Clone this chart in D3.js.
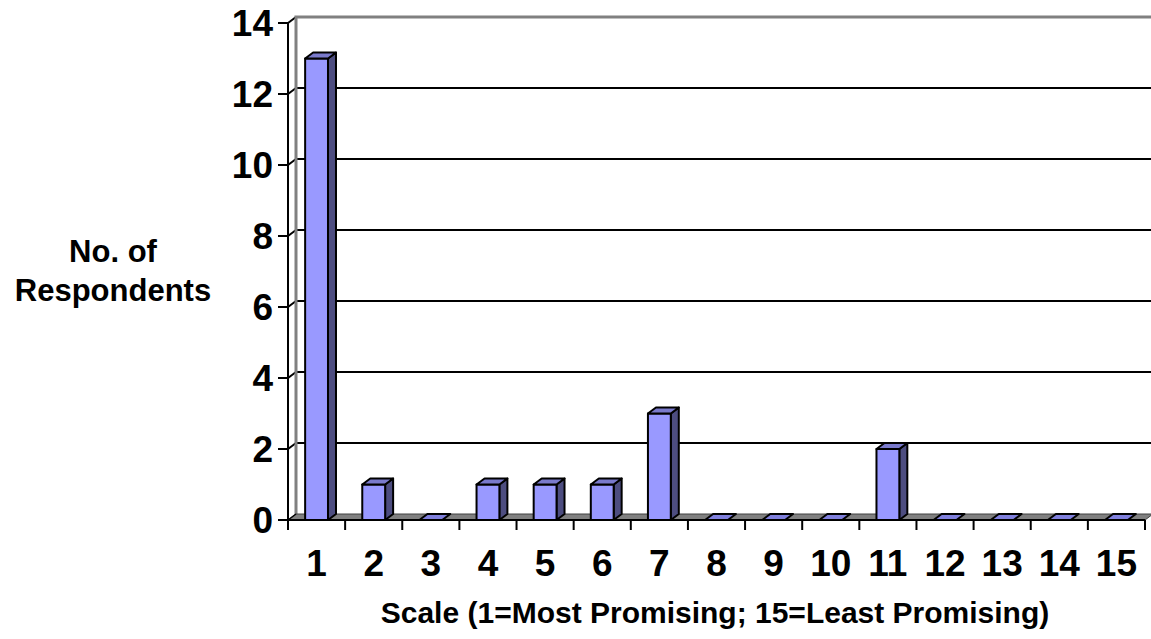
<!DOCTYPE html>
<html>
<head>
<meta charset="utf-8">
<script src="https://cdn.jsdelivr.net/npm/d3@7"></script>
<style>
  html, body { margin: 0; padding: 0; background: #fff; }
  svg { display: block; }
  text { font-family: "Liberation Sans", Arial, sans-serif; font-weight: bold; fill: #000; }
</style>
</head>
<body>
<svg id="chart" width="1151" height="639"></svg>
<script>
// Survey responses on a 15-point scale
const categories = ["1","2","3","4","5","6","7","8","9","10","11","12","13","14","15"];
const respondents = [13, 1, 0, 1, 1, 1, 3, 0, 0, 0, 2, 0, 0, 0, 0];
const yTicks = [0, 2, 4, 6, 8, 10, 12, 14];
const xTitle = "Scale (1=Most Promising; 15=Least Promising)";
const yTitle = ["No. of", "Respondents"];

(function () {
  const svg = d3.select("#chart");

  // Front plane of the 3-D plot and depth offset of the back wall
  const plotLeft = 288, plotRight = 1145, plotBottom = 520, plotTop = 23;
  const dx = 8, dy = -6;

  const x = d3.scaleBand().domain(categories).range([plotLeft, plotRight]).paddingInner(0).paddingOuter(0);
  const y = d3.scaleLinear().domain([0, 14]).range([plotBottom, plotTop]);

  const barW = x.bandwidth() * 0.4;

  // Back wall gridlines
  const grid = svg.append("g");
  yTicks.filter(v => v > 0).forEach(v => {
    grid.append("line")
      .attr("x1", plotLeft + dx).attr("x2", plotRight + dx)
      .attr("y1", y(v) + dy).attr("y2", y(v) + dy)
      .attr("stroke", "#000").attr("stroke-width", 2);
    grid.append("line")
      .attr("x1", plotLeft).attr("x2", plotLeft + dx)
      .attr("y1", y(v)).attr("y2", y(v) + dy)
      .attr("stroke", "#000").attr("stroke-width", 2);
  });

  // Wall border (top and left edges)
  svg.append("path")
    .attr("d", `M${plotLeft + dx},${plotBottom + dy} L${plotLeft + dx},${plotTop + dy} L${plotRight + dx},${plotTop + dy}`)
    .attr("fill", "none").attr("stroke", "#808080").attr("stroke-width", 3);

  // Floor
  svg.append("path")
    .attr("d", `M${plotLeft},${plotBottom} L${plotLeft + dx},${plotBottom + dy} L${plotRight + dx},${plotBottom + dy} L${plotRight},${plotBottom} Z`)
    .attr("fill", "#808080").attr("stroke", "#404040").attr("stroke-width", 1);
  svg.append("line")
    .attr("x1", plotLeft).attr("x2", plotLeft + dx)
    .attr("y1", plotBottom).attr("y2", plotBottom + dy)
    .attr("stroke", "#000").attr("stroke-width", 1.5);

  // 3-D columns
  const bars = svg.append("g").selectAll("g")
    .data(categories.map((c, i) => ({ c, v: respondents[i] })))
    .join("g");

  bars.each(function (d) {
    const g = d3.select(this);
    const x0 = x(d.c) + (x.bandwidth() - barW) / 2;
    const x1 = x0 + barW;
    const yb = y(0), yt = y(d.v);
    const style = s => s.attr("stroke", "#000").attr("stroke-width", 2).attr("stroke-linejoin", "round");
    if (d.v > 0) {
      // side face
      g.append("path")
        .attr("d", `M${x1},${yb} L${x1 + dx},${yb + dy} L${x1 + dx},${yt + dy} L${x1},${yt} Z`)
        .attr("fill", "#4d4d80").call(style);
      // front face
      g.append("rect")
        .attr("x", x0).attr("y", yt).attr("width", barW).attr("height", yb - yt)
        .attr("fill", "#9999ff").call(style);
    }
    // top face
    g.append("path")
      .attr("d", `M${x0},${yt} L${x0 + dx},${yt + dy} L${x1 + dx},${yt + dy} L${x1},${yt} Z`)
      .attr("fill", d.v > 0 ? "#7a7acc" : "#8080dd").call(style);
  });

  // Y axis
  const yAxis = svg.append("g");
  yAxis.append("line")
    .attr("x1", plotLeft).attr("x2", plotLeft).attr("y1", plotTop).attr("y2", plotBottom + 10)
    .attr("stroke", "#000").attr("stroke-width", 2);
  yTicks.forEach(v => {
    yAxis.append("line")
      .attr("x1", plotLeft - 10).attr("x2", plotLeft).attr("y1", y(v)).attr("y2", y(v))
      .attr("stroke", "#000").attr("stroke-width", 2);
    yAxis.append("text")
      .attr("x", 273).attr("y", y(v)).attr("dy", "0.36em")
      .attr("text-anchor", "end").attr("font-size", 37)
      .text(v);
  });

  // X axis
  const xAxis = svg.append("g");
  xAxis.append("line")
    .attr("x1", plotLeft).attr("x2", plotRight).attr("y1", plotBottom).attr("y2", plotBottom)
    .attr("stroke", "#000").attr("stroke-width", 2);
  categories.forEach(c => {
    xAxis.append("line")
      .attr("x1", x(c) + x.bandwidth()).attr("x2", x(c) + x.bandwidth())
      .attr("y1", plotBottom).attr("y2", plotBottom + 10)
      .attr("stroke", "#000").attr("stroke-width", 2);
    xAxis.append("text")
      .attr("x", x(c) + x.bandwidth() / 2).attr("y", 563).attr("dy", "0.36em")
      .attr("text-anchor", "middle").attr("font-size", 37)
      .text(c);
  });

  // Axis titles
  svg.append("text")
    .attr("x", 715).attr("y", 623)
    .attr("text-anchor", "middle").attr("font-size", 30)
    .text(xTitle);
  yTitle.forEach((t, i) => {
    svg.append("text")
      .attr("x", 113).attr("y", 262 + i * 39)
      .attr("text-anchor", "middle").attr("font-size", 31)
      .text(t);
  });
})();
</script>
</body>
</html>
